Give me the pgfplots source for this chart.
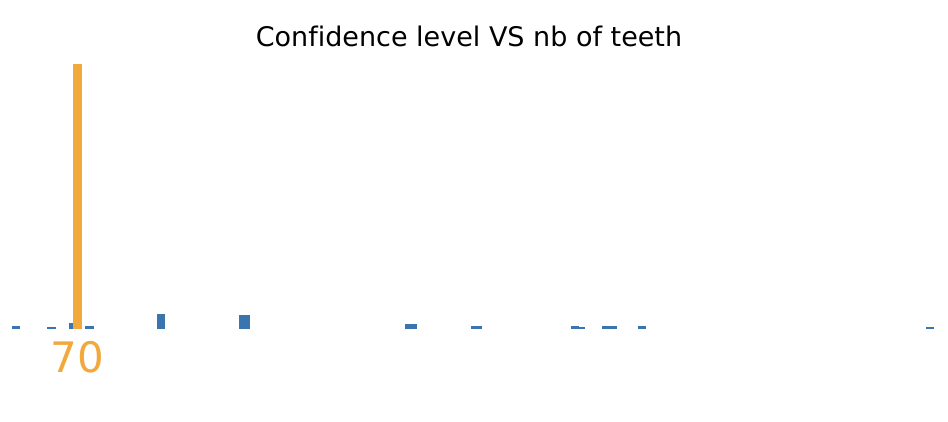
\documentclass[border=0pt]{standalone}
\usepackage{fontspec}
\setmainfont{DejaVu Sans}[Ligatures=CommonOff]
\usepackage{pgfplots}
\pgfplotsset{compat=1.18}
\definecolor{barblue}{RGB}{58,117,175}
\definecolor{barorange}{RGB}{242,169,59}
\begin{document}
\begin{tikzpicture}
\useasboundingbox (0,0) rectangle (948pt,422pt);
\begin{axis}[
  at={(0pt,93pt)}, anchor=south west,
  scale only axis, width=948pt, height=265pt,
  xmin=0, xmax=948, ymin=0, ymax=265,
  axis line style={draw=none},
  major tick style={draw=none},
  ytick=\empty,
  xtick={77.5}, xticklabels={70},
  xticklabel style={anchor=base, inner sep=0pt, yshift=-39pt, text=barorange, font=\fontsize{42}{45}\selectfont},
  title={Confidence level VS nb of teeth},
  title style={at={(469/948,1)}, anchor=base, inner sep=0pt, yshift=11pt, font=\fontsize{27}{30}\selectfont},
  ybar, bar shift=0pt,
  clip=false,
]
\addplot[fill=barblue, draw=none, bar width=8] coordinates {(16,3)};
\addplot[fill=barblue, draw=none, bar width=9] coordinates {(51.5,2)};
\addplot[fill=barblue, draw=none, bar width=9] coordinates {(73.5,6)};
\addplot[fill=barorange, draw=none, bar width=9] coordinates {(77.5,265)};
\addplot[fill=barblue, draw=none, bar width=9] coordinates {(89.5,3)};
\addplot[fill=barblue, draw=none, bar width=8] coordinates {(161,15)};
\addplot[fill=barblue, draw=none, bar width=11] coordinates {(244.5,14)};
\addplot[fill=barblue, draw=none, bar width=12] coordinates {(411,5)};
\addplot[fill=barblue, draw=none, bar width=11] coordinates {(476.5,3)};
\addplot[fill=barblue, draw=none, bar width=8] coordinates {(575,3)};
\addplot[fill=barblue, draw=none, bar width=6] coordinates {(582,2)};
\addplot[fill=barblue, draw=none, bar width=15] coordinates {(609.5,3)};
\addplot[fill=barblue, draw=none, bar width=8] coordinates {(642,3)};
\addplot[fill=barblue, draw=none, bar width=8] coordinates {(930,2)};
\end{axis}
\end{tikzpicture}
\end{document}
